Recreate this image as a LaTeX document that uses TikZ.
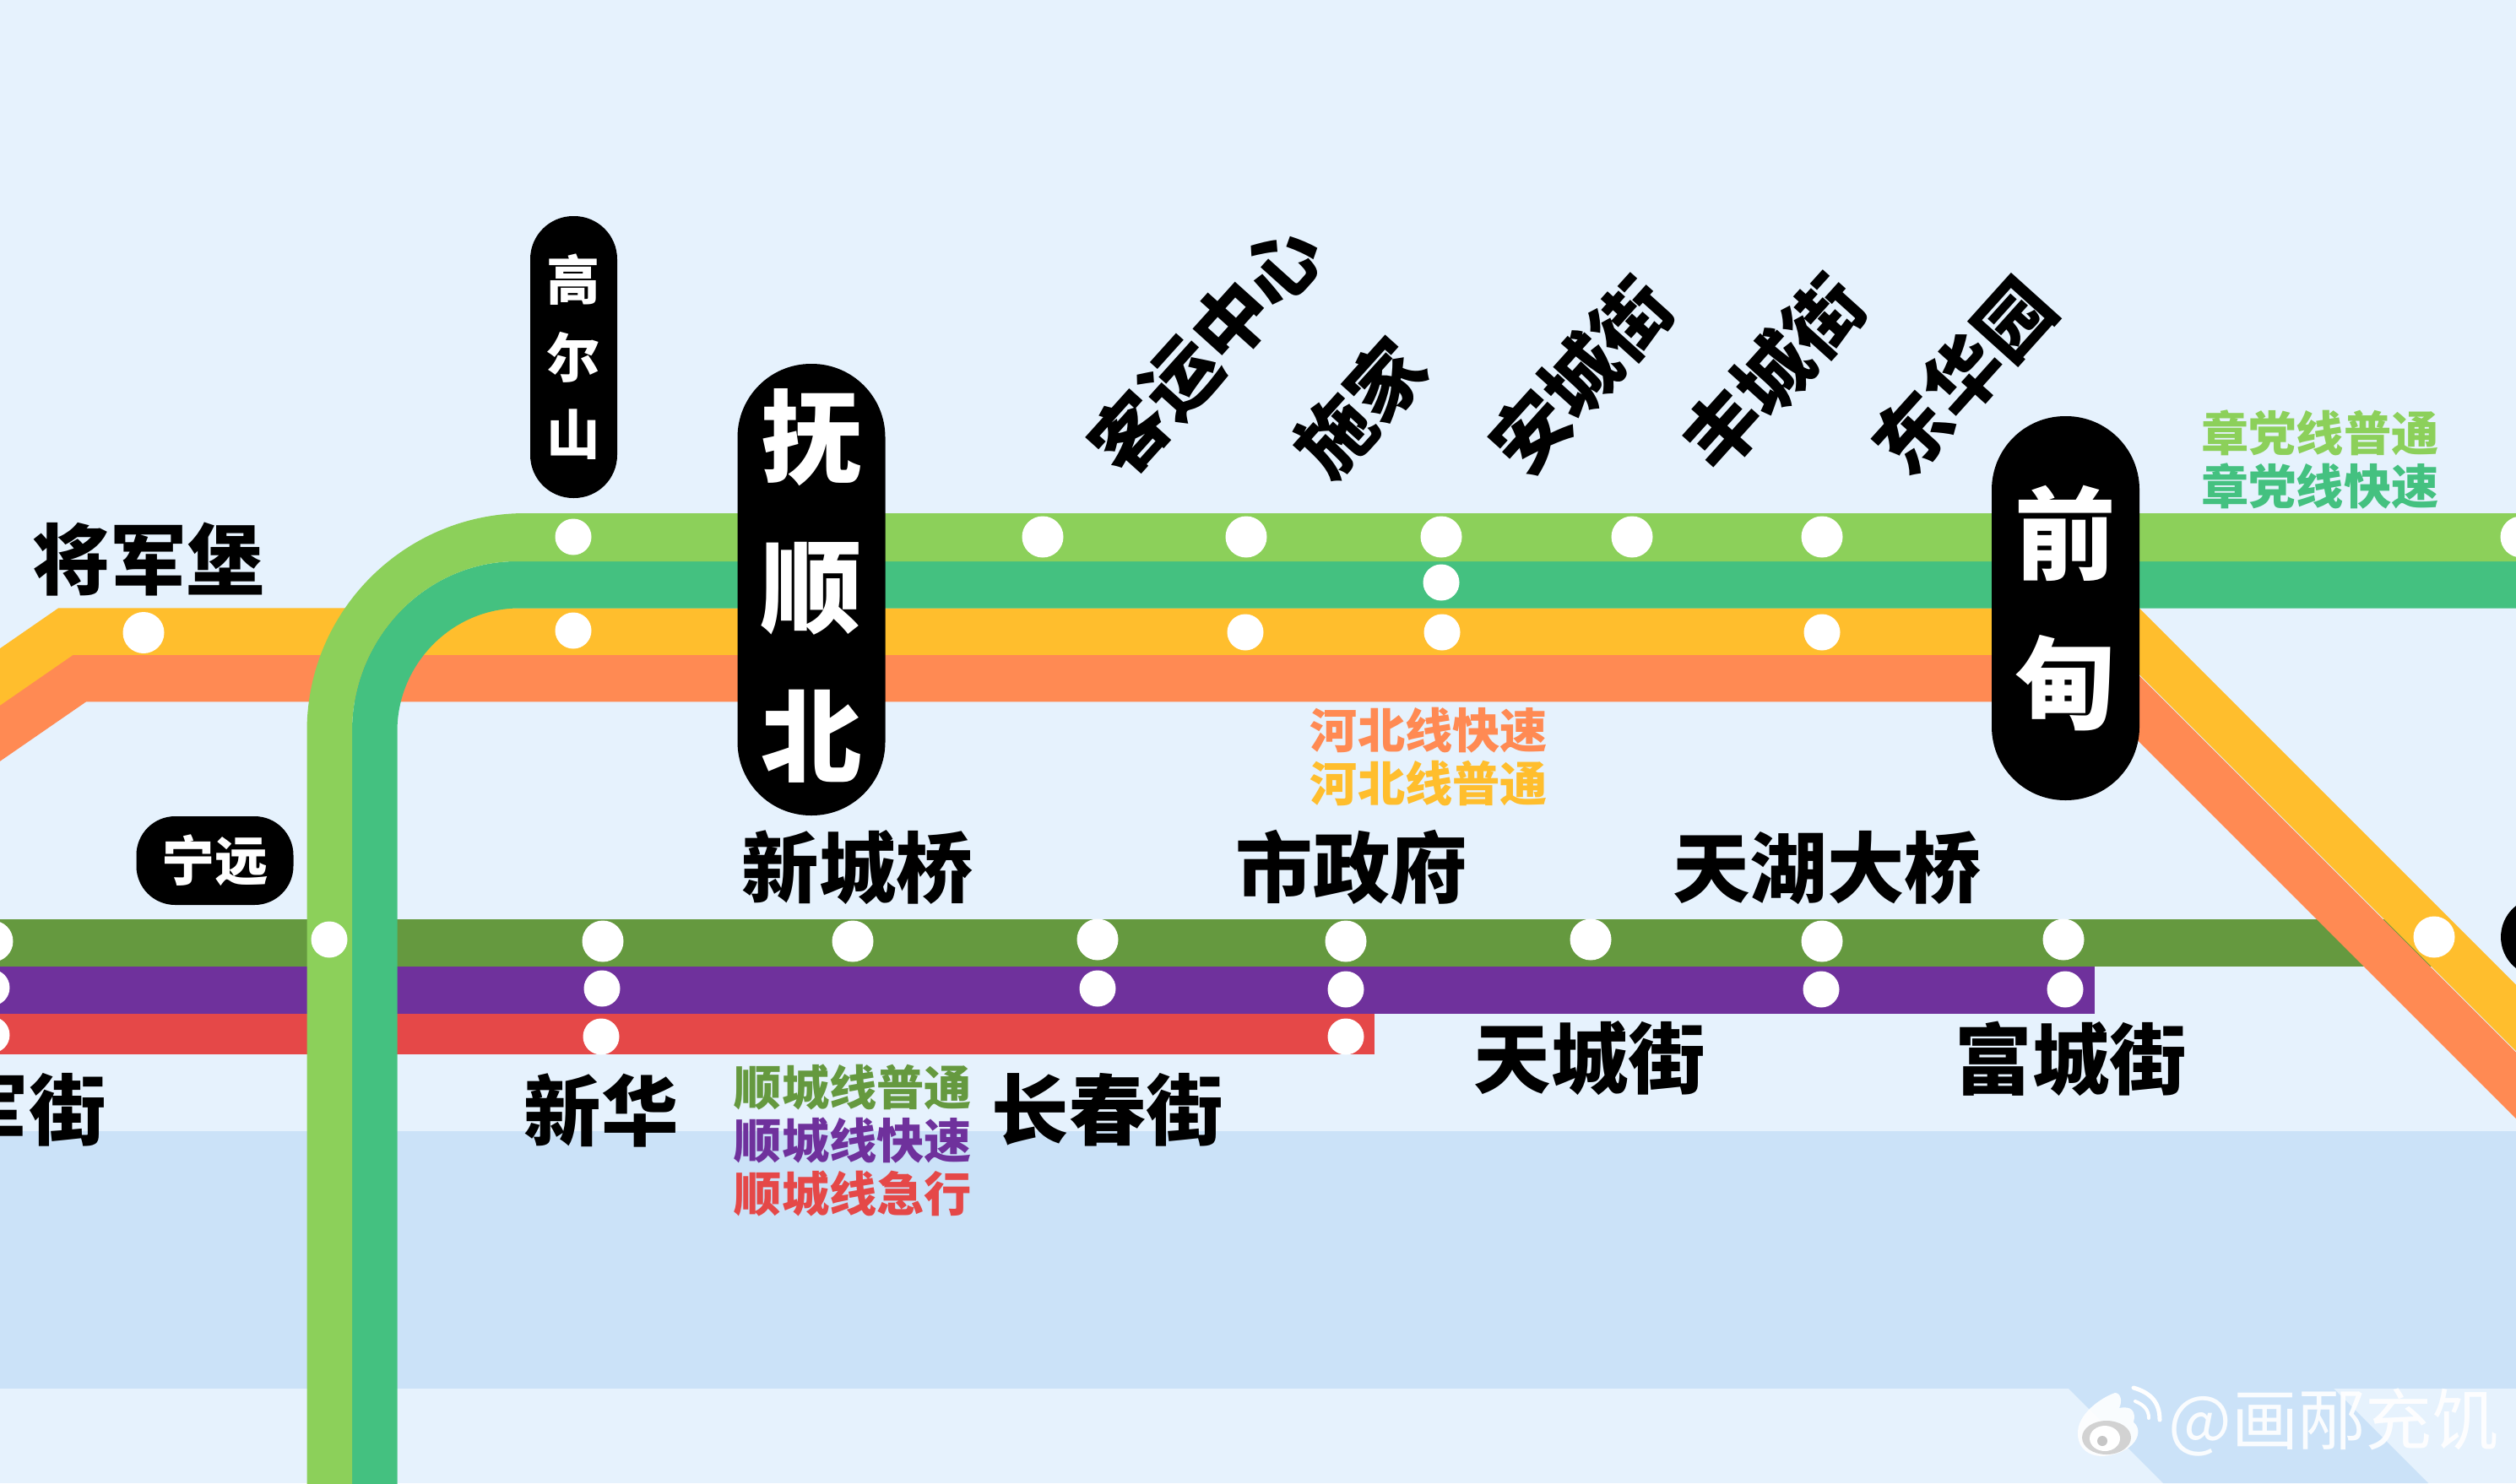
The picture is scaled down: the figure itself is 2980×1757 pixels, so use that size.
\documentclass[tikz,border=0pt]{standalone}
\usepackage{fontspec}
\newfontfamily\cjkb{Noto Sans CJK SC Black}
\newfontfamily\cjkl{Noto Sans CJK SC}
\def\pxu{0.02cm}
\definecolor{bgc}{HTML}{E6F2FD}
\definecolor{riverc}{HTML}{CBE2F8}
\definecolor{lgreen}{HTML}{8CD05A}
\definecolor{teal2}{HTML}{44C180}
\definecolor{yellow2}{HTML}{FFBE2D}
\definecolor{orange2}{HTML}{FF8A53}
\definecolor{dgreen}{HTML}{65993F}
\definecolor{purple2}{HTML}{6F319C}
\definecolor{red2}{HTML}{E54848}
\tikzset{
  band/.style={line width=55.5*\pxu, line join=miter},
  stnL/.style={circle, fill=white, inner sep=0pt, minimum size=49*\pxu},
  stnS/.style={circle, fill=white, inner sep=0pt, minimum size=43*\pxu},
  name label/.style={font=\cjkb\fontsize{52}{60}\selectfont, text=black, inner sep=0pt},
  slant label/.style={font=\cjkb\fontsize{51}{60}\selectfont, text=black, inner sep=0pt, rotate=48},
  legend label/.style={font=\cjkb\fontsize{32}{38}\selectfont, inner sep=0pt},
  pillbig/.style={fill=black, text=white, inner sep=0pt, align=center, minimum width=175*\pxu, rounded corners=87*\pxu,
    font=\cjkb\fontsize{68}{100.9}\selectfont},
  pillsmall/.style={fill=black, text=white, inner sep=0pt, align=center, minimum width=103*\pxu, rounded corners=51*\pxu,
    font=\cjkb\fontsize{36}{52}\selectfont},
}
\begin{document}
\begin{tikzpicture}[x=0.02cm,y=-0.02cm]
\useasboundingbox (0,0) rectangle (2980,1757);
\clip (0,0) rectangle (2980,1757);
\fill[bgc] (0,0) rectangle (2980,1757);
% river
\fill[riverc] (0,1340) rectangle (2980,1645);
\fill[riverc] (2450,1645) -- (2764,1645) -- (2876,1757) -- (2562,1757) -- cycle;
% Shuncheng lines
\draw[dgreen, band] (-10,1117) -- (2900,1117);
\fill[purple2] (-10,1145) rectangle (2481,1200.5);
\fill[red2] (-10,1200.5) rectangle (1628,1249);
% Hebei lines
\draw[orange2, band] (-207,1011) -- (93.5,803.5) -- (2497.5,803.5) -- (3100,1406);
\draw[yellow2, band] (-207,945) -- (78,748) -- (2522,748) -- (3100,1326);
% Zhangdang lines
\fill[teal2] (417,1800) -- (417,866) .. controls (417,755) and (505,665) .. (612,665) -- (3000,665)
  -- (3000,720.5) -- (615,720.5) .. controls (535,720.5) and (470.5,787) .. (470.5,866) -- (470.5,1800) -- cycle;
\fill[lgreen] (363.5,1800) -- (363.5,866) .. controls (363.5,723) and (480,608) .. (622,608) -- (3000,608)
  -- (3000,665) -- (612,665) .. controls (505,665) and (417,755) .. (417,866) -- (417,1800) -- cycle;
% pills
\node[pillsmall, minimum height=334*\pxu] (gao) at (679.5,423) {高\\尔\\山};
\node[pillbig, minimum height=535*\pxu] (fu) at (961,698.5) {\vbox{\hbox{抚}\hbox{顺}\hbox{北}\vskip5pt}};
\node[pillbig, minimum height=455*\pxu] (qian) at (2446.5,720.5) {前\\甸};
\node[fill=black, text=white, inner sep=0pt, minimum width=186*\pxu, minimum height=105*\pxu, rounded corners=46*\pxu,
  font=\cjkb\fontsize{36}{40}\selectfont] (ning) at (254.5,1019.5) {宁远};
\node[fill=black, minimum width=94*\pxu, minimum height=94*\pxu, circle, inner sep=0pt] (nextpill) at (3009,1110) {};
% stations: Zhangdang
\node[stnS] (a1) at (679,636) {};
\node[stnL] (a2) at (1235,636) {};
\node[stnL] (a3) at (1476,636) {};
\node[stnL] (a4) at (1707,636) {};
\node[stnL] (a5) at (1933,636) {};
\node[stnL] (a6) at (2158,636) {};
\node[stnL] (a7) at (2986,636) {};
\node[stnS] (t1) at (1707,690) {};
% stations: Hebei
\node[stnL] (h0) at (170,749.5) {};
\node[stnS] (h1) at (679,747) {};
\node[stnS] (h2) at (1475,749) {};
\node[stnS] (h3) at (1708,749) {};
\node[stnS] (h4) at (2158,749) {};
\node[stnL] (h5) at (2883,1110) {};
% stations: Shuncheng
\node[stnS] (s0) at (390,1113) {};
\node[stnL] (g0) at (-9,1115) {};
\node[stnL] (g1) at (714,1115) {};
\node[stnL] (g2) at (1010,1115) {};
\node[stnL] (g3) at (1300,1113) {};
\node[stnL] (g4) at (1594,1115) {};
\node[stnL] (g5) at (1884,1113) {};
\node[stnL] (g6) at (2158,1115) {};
\node[stnL] (g7) at (2444,1113) {};
\node[stnS] (p0) at (-10,1170) {};
\node[stnS] (p1) at (713,1171) {};
\node[stnS] (p2) at (1300,1171) {};
\node[stnS] (p3) at (1594,1172) {};
\node[stnS] (p4) at (2157,1172) {};
\node[stnS] (p5) at (2446,1172) {};
\node[stnS] (r0) at (-10,1226) {};
\node[stnS] (r1) at (712,1228) {};
\node[stnS] (r2) at (1594,1228) {};
% names
\node[name label] (n1) at (176,663) {将军堡};
\node[name label] (n2) at (1016,1028) {新城桥};
\node[name label] (n3) at (1601,1028) {市政府};
\node[name label] (n4) at (2164,1028) {天湖大桥};
\node[name label] (n5) at (1883,1254) {天城街};
\node[name label] (n6) at (2453,1254) {富城街};
\node[name label] (n7) at (712,1315) {新华};
\node[name label] (n8) at (1312,1315) {长春街};
\node[name label, anchor=east] (n9) at (126,1315) {军街};
\node[slant label] (r1n) at (1428,414) {客运中心};
\node[slant label] (r2n) at (1611,483) {施家};
\node[slant label] (r3n) at (1872,445) {安城街};
\node[slant label] (r4n) at (2100,442) {丰城街};
\node[slant label] (r5n) at (2325,445) {东华园};
% legends
\node[legend label, text=orange2] (l1) at (1692.5,865) {河北线快速};
\node[legend label, text=yellow2] (l2) at (1692.5,928) {河北线普通};
\node[legend label, text=dgreen] (l3) at (1010.5,1288) {顺城线普通};
\node[legend label, text=purple2] (l4) at (1010.5,1351) {顺城线快速};
\node[legend label, text=red2] (l5) at (1010.5,1414) {顺城线急行};
\node[legend label, text=lgreen] (l6) at (2748,513) {章党线普通};
\node[legend label, text=teal2] (l7) at (2748,576) {章党线快速};
% watermark
\fill[white, opacity=.9] (2461,1700) .. controls (2459,1675) and (2490,1655) .. (2505,1650)
  .. controls (2512,1650) and (2514,1660) .. (2510,1668) .. controls (2525,1665) and (2530,1672) .. (2527,1685)
  .. controls (2540,1695) and (2530,1722) .. (2490,1725) .. controls (2475,1725) and (2462,1717) .. (2461,1700) -- cycle;
\fill[gray!35] (2495,1703) ellipse (29 and 20);
\fill[white] (2493,1704) ellipse (18 and 15);
\fill[gray!45] (2490,1707) circle (6);
\draw[white, line width=5*\pxu, line cap=round] (2527,1644) .. controls (2548,1650) and (2558,1662) .. (2558,1682);
\draw[white, line width=4*\pxu, line cap=round] (2529,1660) .. controls (2539,1664) and (2545,1670) .. (2545,1680);
\node[inner sep=0pt, text=white, opacity=.92, anchor=west, font=\cjkl\fontsize{45}{50}\selectfont] (wm) at (2568,1685) {@画邴充饥};
\end{tikzpicture}
\end{document}
